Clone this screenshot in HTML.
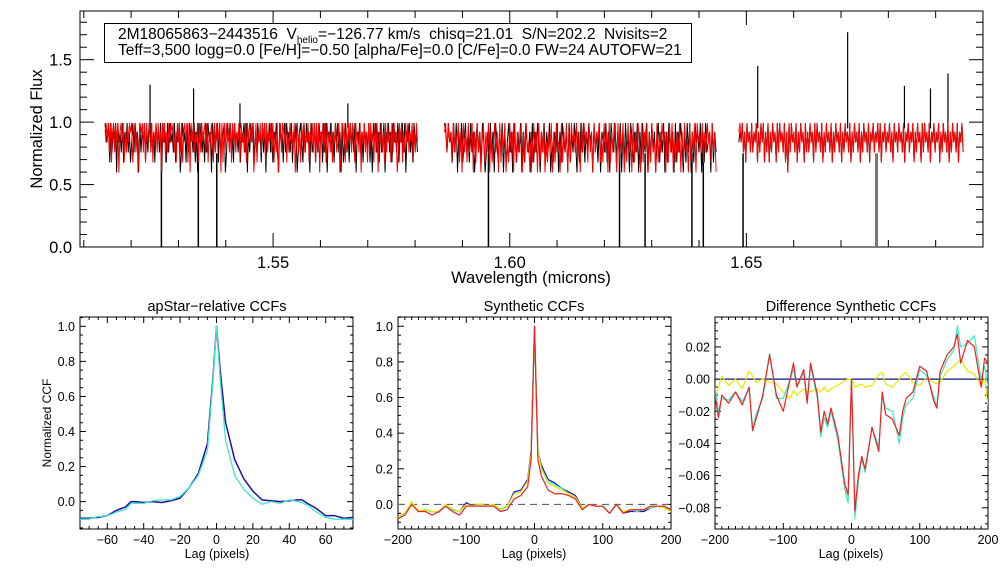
<!DOCTYPE html>
<html><head><meta charset="utf-8">
<style>
html,body{margin:0;padding:0;background:#fff;}
svg{display:block;font-family:"Liberation Sans",Arial,sans-serif;}
.pre{white-space:pre;}
</style></head>
<body>
<svg id="fig" width="1008" height="576" viewBox="0 0 1008 576" xmlns="http://www.w3.org/2000/svg">
<rect x="0" y="0" width="1008" height="576" fill="#fff"/>
<g id="info-box">
<rect x="104.5" y="23.5" width="587" height="39" fill="#fff" stroke="#000" stroke-width="1"/>
<text class="pre" x="118" y="39" font-size="15.5">2M18065863−2443516  V<tspan font-size="10" dy="4">helio</tspan><tspan dy="-4">=−126.77 km/s  chisq=21.01  S/N=202.2  Nvisits=2</tspan></text>
<text class="pre" x="118" y="55" font-size="15.5">Teff=3,500 logg=0.0 [Fe/H]=−0.50 [alpha/Fe]=0.0 [C/Fe]=0.0 FW=24 AUTOFW=21</text>
</g>
</svg>
<script>
// ---------- Spectrum data ----------
const segStart = [1.5145, 1.5862, 1.6484];
const segEnd = [1.5805, 1.6436, 1.6958];
const fluxLevels = [0.42, 0.46, 0.50, 0.55, 0.60, 0.68, 0.76, 0.84, 0.92, 0.99];
const blackSeg = [
"9789596879497869587968579697849687958697968597869497859697869587946978596978695849796859697849687959678946979685978695879694869795869785969487969587964978596978695879468975969784967958697859694879685979684957968597869487968597869584979685967948796859786958796948796859786",
"9869785969486957968596847968597468596849758694857968497586948597684958697486958694758694859768495869748596958697849685947869584976958694859684975869485967948596847958694859768495869748596948597869485967849586",
"7879685978696879586979586958697859697869584969786958697859686978596978695869786958697869586978695869786958697869587968796958796879685978697869587968795869785969786958796879586978695869786958796"
];
const redSeg = [
"8979695896979489795869798957968479896959789695879697849795869798968597969589795949796879596978969587975969789495969786959796879597869597987946958796979596879695869479698795869786947968597968795879695969487969597869587967946979586979698597869487968596978596948796859697859697846979586979687958697",
"8969785968795849685967948596847958694857968495869475968495867948596748596849586947586948596749586948597869584969785968496879585968495869749586947596849586974958694859674958697848596947586948596749586949786958697859684",
"8979685978696879586979586958697859697869584969786958697859686978596978695869786958697869586978695869786958697869587968796958796879685978697869587968795869785969786958796879586978695869786958796"
];
const dipWave = [1.5264, 1.5342, 1.5381, 1.5955, 1.6232, 1.6286, 1.6385, 1.6409, 1.6493, 1.6775];
const peakWave = [1.5240, 1.5332, 1.5430, 1.5658, 1.6524, 1.6714, 1.6834, 1.6889, 1.6926];
const peakFlux = [1.30, 1.27, 1.15, 1.15, 1.45, 1.72, 1.29, 1.27, 1.39];
const specXTicks = [1.55, 1.60, 1.65];
const specYTicks = [0.0, 0.5, 1.0, 1.5];

// ---------- apStar CCF data ----------
const apLag = [-75,-70,-65,-60,-55,-50,-47,-45,-40,-35,-30,-25,-20,-15,-10,-5,-2,0,2,5,10,15,20,25,30,35,40,45,47,50,55,60,65,70,75];
const apBlue = [-0.095,-0.095,-0.09,-0.08,-0.05,-0.03,0.0,0.0,-0.005,0.0,-0.005,0.005,0.02,0.08,0.16,0.33,0.7,1.0,0.75,0.45,0.24,0.13,0.06,0.01,0.005,0.0,0.005,0.01,0.01,-0.01,-0.04,-0.08,-0.08,-0.095,-0.09];
const apCyan = [-0.1,-0.1,-0.085,-0.08,-0.06,-0.045,-0.01,-0.01,-0.01,0.005,0.01,0.01,0.03,0.08,0.15,0.29,0.68,1.0,0.7,0.35,0.15,0.07,0.02,-0.015,0.0,-0.01,0.01,0.0,-0.005,-0.02,-0.06,-0.09,-0.1,-0.1,-0.1];
const apXTicks = [-60,-40,-20,0,20,40,60];
const apYTicks = [0.0,0.2,0.4,0.6,0.8,1.0];

// ---------- Synthetic CCF data ----------
const synLag = [-200,-190,-180,-170,-160,-150,-140,-130,-120,-110,-100,-90,-80,-70,-60,-50,-40,-30,-20,-10,-5,0,5,10,20,30,40,50,60,70,80,90,100,110,120,130,140,150,160,170,180,190,200];
const synBlue = [-0.07,-0.05,0.01,-0.04,-0.03,-0.04,-0.04,0.0,-0.03,-0.04,0.01,-0.01,0.0,-0.01,0.0,-0.03,-0.01,0.07,0.08,0.14,0.3,1.0,0.3,0.22,0.14,0.12,0.09,0.07,0.05,-0.02,0.0,-0.01,-0.01,-0.05,0.0,-0.05,-0.04,-0.04,-0.04,-0.02,-0.01,-0.01,-0.03];
const synCyan = [-0.075,-0.05,0.01,-0.04,-0.035,-0.04,-0.045,0.0,-0.03,-0.04,0.0,-0.01,0.0,-0.01,-0.005,-0.03,-0.015,0.06,0.07,0.13,0.28,1.0,0.3,0.2,0.13,0.11,0.09,0.06,0.04,-0.03,0.0,-0.01,-0.01,-0.05,0.0,-0.05,-0.03,-0.04,-0.03,-0.02,-0.01,-0.01,-0.04];
const synYellow = [-0.07,-0.05,0.015,-0.035,-0.03,-0.04,-0.04,0.0,-0.025,-0.04,0.0,-0.01,0.005,-0.01,0.0,-0.025,-0.01,0.06,0.07,0.13,0.28,0.98,0.3,0.2,0.12,0.1,0.08,0.06,0.04,-0.02,0.0,-0.01,-0.01,-0.05,0.0,-0.04,-0.03,-0.03,-0.03,-0.01,-0.01,-0.02,-0.04];
const synRed = [-0.08,-0.06,0.0,-0.04,-0.04,-0.06,-0.04,-0.01,-0.04,-0.06,-0.01,-0.01,-0.01,-0.01,-0.01,-0.04,-0.03,0.03,0.05,0.1,0.25,1.0,0.25,0.16,0.08,0.06,0.06,0.05,0.03,-0.03,0.0,-0.01,-0.01,-0.05,0.0,-0.05,-0.03,-0.03,-0.03,-0.01,-0.01,-0.01,-0.03];
const synXTicks = [-200,-100,0,100,200];
const synYTicks = [0.0,0.2,0.4,0.6,0.8,1.0];

// ---------- Difference CCF data ----------
const difLag = [-200,-195,-190,-180,-170,-160,-150,-145,-140,-130,-120,-110,-100,-90,-85,-80,-70,-65,-60,-50,-45,-40,-35,-30,-20,-10,-5,0,5,10,15,20,30,40,45,50,60,70,75,80,90,100,110,120,125,130,140,150,155,160,170,180,190,195,200];
const difRed = [-0.01,-0.024,-0.01,-0.015,-0.008,-0.016,-0.005,-0.032,-0.025,-0.01,0.015,-0.01,-0.02,0.0,0.01,-0.005,0.006,-0.015,0.01,-0.01,-0.033,-0.02,-0.028,-0.018,-0.035,-0.065,-0.072,0.0,-0.082,-0.06,-0.048,-0.056,-0.03,-0.045,-0.008,-0.022,-0.025,-0.035,-0.02,-0.012,-0.008,0.008,0.005,-0.013,-0.018,0.005,0.015,0.02,0.028,0.01,0.024,0.02,-0.005,0.013,0.01];
const difCyan = [-0.005,-0.02,-0.012,-0.013,-0.008,-0.014,-0.006,-0.03,-0.022,-0.012,0.016,-0.012,-0.012,0.0,0.006,-0.005,0.004,-0.013,0.008,-0.012,-0.036,-0.024,-0.03,-0.02,-0.038,-0.068,-0.077,0.0,-0.087,-0.064,-0.05,-0.058,-0.03,-0.042,-0.01,-0.018,-0.02,-0.04,-0.024,-0.016,-0.012,0.006,0.002,-0.01,-0.018,0.002,0.012,0.018,0.033,0.02,0.022,0.027,0.0,0.008,-0.005];
const difYellow = [-0.013,-0.005,0.002,-0.004,0.0,-0.006,0.005,0.002,-0.002,0.0,-0.002,-0.003,-0.008,-0.012,-0.007,-0.01,-0.006,-0.008,-0.008,-0.006,-0.008,-0.005,-0.008,-0.006,-0.004,-0.001,0.0,0.0,-0.005,-0.004,-0.003,-0.005,-0.004,0.003,0.004,-0.003,-0.005,0.0,0.003,0.004,-0.002,-0.004,0.001,-0.002,-0.003,-0.002,0.005,0.008,0.01,0.012,0.005,0.003,-0.004,0.0,-0.016];
const difXTicks = [-200,-100,0,100,200];
const difYTicks = [-0.08,-0.06,-0.04,-0.02,0.00,0.02];

const NS = "http://www.w3.org/2000/svg";
const svg = document.getElementById('fig');
function mk(tag, attrs, parent) {
  const e = document.createElementNS(NS, tag);
  for (const k in attrs) e.setAttribute(k, attrs[k]);
  (parent || svg).appendChild(e);
  return e;
}
function lin(d0, d1, r0, r1) { return v => r0 + (v - d0) * (r1 - r0) / (d1 - d0); }
function fmt(v, dec) { const s = Math.abs(v).toFixed(dec); return (v < -1e-9 ? '\u2212' : '') + s; }

function axes(p) {
  const g = mk('g', {});
  
  
  const sx = lin(p.xd[0], p.xd[1], p.x0, p.x1);
  const sy = lin(p.yd[0], p.yd[1], p.y1, p.y0);
  for (let v = Math.ceil(p.xd[0] / p.xmin - 1e-6) * p.xmin; v <= p.xd[1] + 1e-9; v += p.xmin) {
    const x = sx(v);
    const major = Math.abs(v / p.xmaj - Math.round(v / p.xmaj)) < 1e-4;
    const L = major ? p.tl : p.tl / 2;
    const t1 = mk('line', {x1: x, x2: x, y1: p.y1, y2: p.y1 - L, stroke: '#000', 'stroke-width': 1}, g);
    
    
    const t2 = mk('line', {x1: x, x2: x, y1: p.y0, y2: p.y0 + L, stroke: '#000', 'stroke-width': 1}, g);
    
    
  }
  for (let v = Math.ceil(p.yd[0] / p.ymin - 1e-6) * p.ymin; v <= p.yd[1] + 1e-9; v += p.ymin) {
    const y = sy(v);
    const major = Math.abs(v / p.ymaj - Math.round(v / p.ymaj)) < 1e-4;
    const L = major ? p.tl : p.tl / 2;
    const t1 = mk('line', {x1: p.x0, x2: p.x0 + L, y1: y, y2: y, stroke: '#000', 'stroke-width': 1}, g);
    
    
    const t2 = mk('line', {x1: p.x1, x2: p.x1 - L, y1: y, y2: y, stroke: '#000', 'stroke-width': 1}, g);
    
    
  }
  for (const v of p.xt) {
    const t = mk('text', {x: sx(v), y: p.y1 + p.xlo, 'font-size': p.fs, 'text-anchor': 'middle'}, g);
    
    
    t.textContent = fmt(v, p.xdec);
  }
  for (const v of p.yt) {
    const t = mk('text', {x: p.x0 - p.ylo, y: sy(v) + p.fs * 0.36, 'font-size': p.fs, 'text-anchor': 'end'}, g);
    
    
    t.textContent = fmt(v, p.ydec);
  }
  const fr = mk('rect', {x: p.x0, y: p.y0, width: p.x1 - p.x0, height: p.y1 - p.y0, fill: 'none', stroke: '#000', 'stroke-width': 1}, g);
  
  
  const cp = mk('clipPath', {id: p.name + '-clip'});
  mk('rect', {x: p.x0, y: p.y0, width: p.x1 - p.x0, height: p.y1 - p.y0}, cp);
  return {sx, sy, g};
}
function series(ax, clipId, xs, ys, color, name, w) {
  let d = '';
  xs.forEach((x, i) => { d += (i ? 'L' : 'M') + ax.sx(x).toFixed(2) + ',' + ax.sy(ys[i]).toFixed(2); });
  const p = mk('path', {d: d, fill: 'none', stroke: color, 'stroke-width': w || 1.2, 'clip-path': 'url(#' + clipId + ')', 'stroke-linejoin': 'round'});
  
  
  return p;
}
function label(x, y, txt, fs, name, rot) {
  const t = mk('text', {x: x, y: y, 'font-size': fs, 'text-anchor': 'middle'});
  if (rot) t.setAttribute('transform', 'rotate(-90 ' + x + ' ' + y + ')');
  
  
  t.textContent = txt;
}

// ---------- Spectrum panel ----------
const spec = axes({name: 'spectrum', x0: 80, x1: 983, y0: 11, y1: 247, xd: [1.5092, 1.7], yd: [0, 1.89],
  xmaj: 0.05, xmin: 0.01, ymaj: 0.5, ymin: 0.1, tl: 14, xt: specXTicks, yt: specYTicks, fs: 16.5, xlo: 21, ylo: 8, xdec: 2, ydec: 1});
function drawSeg(str, i, color, name) {
  const xs = [], ys = [];
  const n = str.length;
  for (let k = 0; k < n; k++) {
    xs.push(segStart[i] + (segEnd[i] - segStart[i]) * k / (n - 1));
    ys.push(fluxLevels[parseInt(str[k], 10)]);
  }
  series(spec, 'spectrum-clip', xs, ys, color, name, 1);
}
blackSeg.forEach((s, i) => drawSeg(s, i, '#000', 'observed-spectrum-seg' + (i + 1)));
dipWave.forEach((w, i) => {
  const l = mk('line', {x1: spec.sx(w), x2: spec.sx(w), y1: spec.sy(0.75), y2: spec.sy(0), stroke: i === 9 ? '#777' : '#000', 'stroke-width': i === 9 ? 3 : 1.5});
  
  
});
peakWave.forEach((w, i) => {
  const l = mk('line', {x1: spec.sx(w), x2: spec.sx(w), y1: spec.sy(0.95), y2: spec.sy(peakFlux[i]), stroke: '#000', 'stroke-width': 1.2});
  
  
});
redSeg.forEach((s, i) => drawSeg(s, i, '#ff0000', 'model-spectrum-seg' + (i + 1)));
label(531, 283, 'Wavelength (microns)', 16.5, 'spectrum-x-title');
label(42, 129, 'Normalized Flux', 16.5, 'spectrum-y-title', true);
svg.appendChild(document.getElementById('info-box'));

// ---------- apStar CCF panel ----------
const ap = axes({name: 'apstar-ccf', x0: 80, x1: 353, y0: 317, y1: 529, xd: [-75, 75], yd: [-0.156, 1.053],
  xmaj: 20, xmin: 5, ymaj: 0.2, ymin: 0.05, tl: 6, xt: apXTicks, yt: apYTicks, fs: 12.5, xlo: 15, ylo: 5, xdec: 0, ydec: 1});
series(ap, 'apstar-ccf-clip', apLag, apBlue, '#2010a0', 'apstar-ccf-blue', 1.5);
series(ap, 'apstar-ccf-clip', apLag, apCyan, '#40e8c8', 'apstar-ccf-cyan', 1.3);
label(217, 311, 'apStar\u2212relative CCFs', 14.5, 'apstar-ccf-title');
label(217, 558, 'Lag (pixels)', 12.5, 'apstar-ccf-x-title');
label(51, 423, 'Normalized CCF', 12, 'apstar-ccf-y-title', true);

// ---------- Synthetic CCF panel ----------
const syn = axes({name: 'synthetic-ccf', x0: 398, x1: 671, y0: 317, y1: 529, xd: [-200, 200], yd: [-0.138, 1.052],
  xmaj: 100, xmin: 10, ymaj: 0.2, ymin: 0.05, tl: 6, xt: synXTicks, yt: synYTicks, fs: 12.5, xlo: 15, ylo: 5, xdec: 0, ydec: 1});
const zl = mk('line', {x1: syn.sx(-200), x2: syn.sx(200), y1: syn.sy(0), y2: syn.sy(0), stroke: '#666', 'stroke-width': 1.2, 'stroke-dasharray': '7,5'});


series(syn, 'synthetic-ccf-clip', synLag, synBlue, '#1010c0', 'synthetic-ccf-blue', 1.2);
series(syn, 'synthetic-ccf-clip', synLag, synCyan, '#40e8c8', 'synthetic-ccf-cyan', 1.2);
series(syn, 'synthetic-ccf-clip', synLag, synYellow, '#e8e800', 'synthetic-ccf-yellow', 1.2);
series(syn, 'synthetic-ccf-clip', synLag, synRed, '#ee2020', 'synthetic-ccf-red', 1.2);
label(534, 311, 'Synthetic CCFs', 14.5, 'synthetic-ccf-title');
label(534, 558, 'Lag (pixels)', 12.5, 'synthetic-ccf-x-title');

// ---------- Difference CCF panel ----------
const dif = axes({name: 'difference-ccf', x0: 715, x1: 988, y0: 317, y1: 529, xd: [-200, 200], yd: [-0.0932, 0.0386],
  xmaj: 100, xmin: 10, ymaj: 0.02, ymin: 0.005, tl: 6, xt: difXTicks, yt: difYTicks, fs: 12.5, xlo: 15, ylo: 5, xdec: 0, ydec: 2});
const dz = mk('line', {x1: dif.sx(-200), x2: dif.sx(200), y1: dif.sy(0), y2: dif.sy(0), stroke: '#101080', 'stroke-width': 1.2});


series(dif, 'difference-ccf-clip', difLag, difYellow, '#e8e800', 'difference-ccf-yellow', 1.2);
series(dif, 'difference-ccf-clip', difLag, difCyan, '#40e8c8', 'difference-ccf-cyan', 1.2);
series(dif, 'difference-ccf-clip', difLag, difRed, '#ee2020', 'difference-ccf-red', 1.2);
label(851, 311, 'Difference Synthetic CCFs', 14.5, 'difference-ccf-title');
label(851, 558, 'Lag (pixels)', 12.5, 'difference-ccf-x-title');
</script>
</body></html>
